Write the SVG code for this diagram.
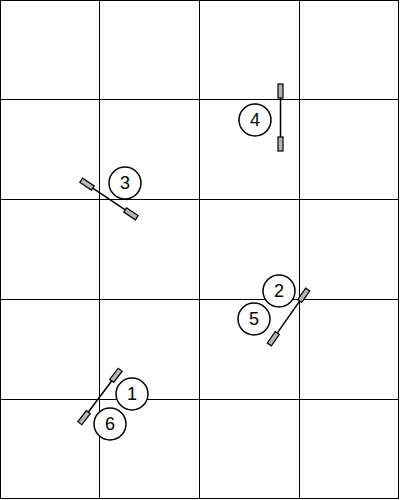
<svg xmlns="http://www.w3.org/2000/svg" width="400" height="500" viewBox="0 0 400 500">
<defs>
<style>
.grid{stroke:#000;stroke-width:1;fill:none}
.bar{fill:#b4b4b4;stroke:#000;stroke-width:1.2}
.pole{stroke:#000;stroke-width:1.5}
.num circle{fill:#fff;stroke:#000;stroke-width:1.5}
.num text{font-family:"Liberation Sans",Arial,sans-serif;font-size:18px;fill:#000;text-anchor:middle;dominant-baseline:central}
</style>
<g id="gate">
<line class="pole" x1="0" y1="-20" x2="0" y2="20"/>
<rect class="bar" x="-2.5" y="-33.5" width="5" height="14"/>
<rect class="bar" x="-2.5" y="19.5" width="5" height="14"/>
</g>
</defs>
<rect width="400" height="500" fill="#fff"/>
<g id="grid" class="grid">
<rect x="0.5" y="0.5" width="398" height="498"/>
<line x1="99.5" y1="0" x2="99.5" y2="499"/>
<line x1="199.5" y1="0" x2="199.5" y2="499"/>
<line x1="299.5" y1="0" x2="299.5" y2="499"/>
<line x1="0" y1="99.5" x2="399" y2="99.5"/>
<line x1="0" y1="199.5" x2="399" y2="199.5"/>
<line x1="0" y1="299.5" x2="399" y2="299.5"/>
<line x1="0" y1="399.5" x2="399" y2="399.5"/>
</g>
<g id="gates">
<use id="gate-4" href="#gate" transform="translate(280.5,117.5)"/>
<use id="gate-3" href="#gate" transform="translate(109,199) rotate(-56)"/>
<use id="gate-2-5" href="#gate" transform="translate(288.5,317) rotate(35)"/>
<use id="gate-1-6" href="#gate" transform="translate(100,396.5) rotate(37)"/>
</g>
<g id="n4" class="num"><circle cx="255" cy="120" r="16"/><text x="255" y="120">4</text></g>
<g id="n3" class="num"><circle cx="125" cy="183" r="16"/><text x="125" y="183">3</text></g>
<g id="n2" class="num"><circle cx="279" cy="291" r="16"/><text x="279" y="291">2</text></g>
<g id="n5" class="num"><circle cx="254" cy="319" r="16"/><text x="254" y="319">5</text></g>
<g id="n1" class="num"><circle cx="132" cy="394" r="16"/><text x="132" y="394">1</text></g>
<g id="n6" class="num"><circle cx="110" cy="424" r="16"/><text x="110" y="424">6</text></g>
</svg>
